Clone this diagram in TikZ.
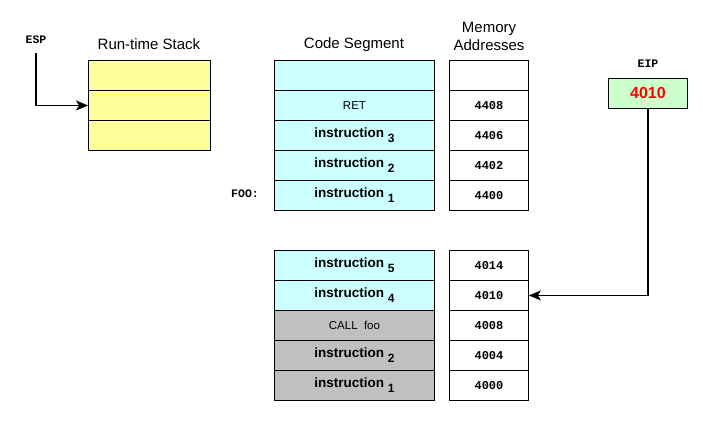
\documentclass[tikz,border=0pt]{standalone}
\usepackage{fontspec}
\setmainfont{Liberation Sans}
\setmonofont{Liberation Mono}
\usetikzlibrary{arrows.meta}
\definecolor{stackyellow}{HTML}{FFFF99}
\definecolor{codecyan}{HTML}{CCFFFF}
\definecolor{codegray}{HTML}{C0C0C0}
\definecolor{eipgreen}{HTML}{CCFFCC}
\newcommand\instr[1]{\textbf{instruction}\ \raisebox{-5pt}{\textbf{\fontsize{12}{12}\selectfont #1}}}
\tikzset{
  cell/.style={draw, line width=0.9pt, minimum height=30pt, inner sep=0pt, anchor=north west,
    font=\fontsize{11.5}{13}\selectfont},
  stackcell/.style={cell, fill=stackyellow, minimum width=122pt},
  codecell/.style={cell, fill=codecyan, minimum width=160pt},
  graycell/.style={cell, fill=codegray, minimum width=160pt},
  memcell/.style={cell, fill=white, minimum width=79pt, font=\ttfamily\bfseries\fontsize{12}{13}\selectfont},
  ttlabel/.style={font=\ttfamily\bfseries\fontsize{11.5}{13}\selectfont},
  title/.style={font=\fontsize{15}{18}\selectfont, align=center},
  arr/.style={line width=1.4pt, -{Stealth[length=12pt,width=10pt,inset=3pt]}},
  ins/.style={font=\fontsize{13.5}{15}\selectfont}
}
\begin{document}
\begin{tikzpicture}[x=1pt,y=-1pt]
\useasboundingbox (0,0) rectangle (703,424);
% titles
\node[title] (tstack) at (149,44) {Run-time Stack};
\node[title] (tcode) at (354,45) {Code Segment};
\node[title] (tmem) at (489,36) {Memory\\Addresses};
% stack
\node[stackcell] (s1) at (88,60) {};
\node[stackcell] (s2) at (88,90) {};
\node[stackcell] (s3) at (88,120) {};
\node[ttlabel] (esp) at (36,40) {ESP};
\draw[arr] ([yshift=-6pt]esp.south) |- (s2.west);
% code segment top
\node[codecell] (c1) at (274,60) {};
\node[codecell] (c2) at (274,90) {RET};
\node[codecell,ins] (c3) at (274,120) {\instr{3}};
\node[codecell,ins] (c4) at (274,150) {\instr{2}};
\node[codecell,ins] (c5) at (274,180) {\instr{1}};
\node[ttlabel] (foo) at (245,194) {FOO:};
% memory top
\node[memcell] (m1) at (449,60) {};
\node[memcell] (m2) at (449,90) {4408};
\node[memcell] (m3) at (449,120) {4406};
\node[memcell] (m4) at (449,150) {4402};
\node[memcell] (m5) at (449,180) {4400};
% code segment bottom
\node[codecell,ins] (d1) at (274,250) {\instr{5}};
\node[codecell,ins] (d2) at (274,280) {\instr{4}};
\node[graycell] (d3) at (274,310) {CALL\ \ foo};
\node[graycell,ins] (d4) at (274,340) {\instr{2}};
\node[graycell,ins] (d5) at (274,370) {\instr{1}};
% memory bottom
\node[memcell] (n1) at (449,250) {4014};
\node[memcell] (n2) at (449,280) {4010};
\node[memcell] (n3) at (449,310) {4008};
\node[memcell] (n4) at (449,340) {4004};
\node[memcell] (n5) at (449,370) {4000};
% EIP
\node[ttlabel] (eiplabel) at (648,64) {EIP};
\node[cell, fill=eipgreen, minimum width=79pt, text=red, font=\bfseries\fontsize{16}{18}\selectfont] (eip) at (608,78) {4010};
\draw[arr] (eip.south) |- (n2.east);
\end{tikzpicture}
\end{document}
